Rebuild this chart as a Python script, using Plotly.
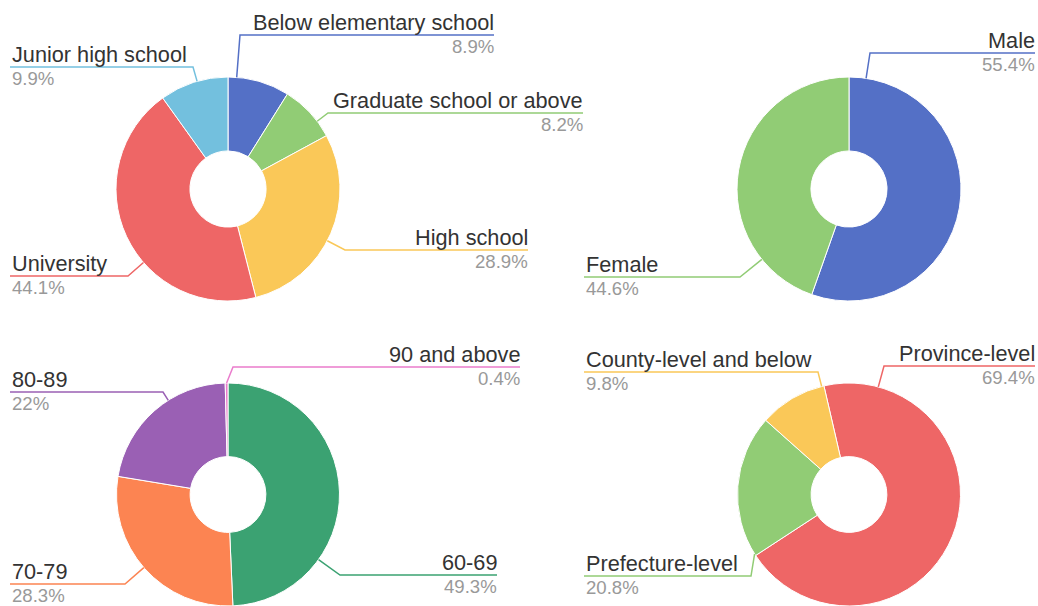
import math
import plotly.graph_objects as go

W, H = 1038, 606

# ---- data -------------------------------------------------------------
edu_labels = ["Below elementary school", "Graduate school or above", "High school",
              "University", "Junior high school"]
edu_values = [8.9, 8.2, 28.9, 44.1, 9.9]

gender_labels = ["Male", "Female"]
gender_values = [55.4, 44.6]

age_labels = ["60-69", "70-79", "80-89", "90 and above"]
age_values = [49.3, 28.3, 22, 0.4]

level_labels = ["Province-level", "Prefecture-level", "County-level and below"]
level_values = [69.4, 20.8, 9.8]

# ---- styling / layout -------------------------------------------------
BLUE, GREEN, YELLOW, RED, SKY = "#5470c6", "#91cc75", "#fac858", "#ee6666", "#73c0de"
TEAL, ORANGE, PURPLE, PINK = "#3ba272", "#fc8452", "#9a60b4", "#ea7ccc"

FONT = "Liberation Sans, Arial, Helvetica, sans-serif"
LABEL_SIZE = 21.7
PCT_SIZE = 18.6
RADIUS = 112
HOLE = 0.34

# each label: (side, y of the underline, x of the elbow, x of the outer text edge)
panels = [
    dict(labels=edu_labels, values=edu_values, colors=[BLUE, GREEN, YELLOW, RED, SKY],
         center=(228, 189), rotation=0,
         guides=[("right", 35, 240, 494), ("right", 113, 328, 583), ("right", 250, 345, 528),
                 ("left", 276, 128, 10), ("left", 67, 193, 10)]),
    dict(labels=gender_labels, values=gender_values, colors=[BLUE, GREEN],
         center=(849, 189), rotation=0,
         guides=[("right", 53, 870, 1035), ("left", 277, 740, 584)]),
    dict(labels=age_labels, values=age_values, colors=[TEAL, ORANGE, PURPLE, PINK],
         center=(228, 495), rotation=0,
         guides=[("right", 575, 340, 497), ("left", 584, 125, 10), ("left", 392, 163, 10),
                 ("right", 367, 233, 520)]),
    dict(labels=level_labels, values=level_values, colors=[RED, GREEN, YELLOW],
         center=(849, 495), rotation=-13,
         guides=[("right", 366, 884, 1035), ("left", 576, 751, 584), ("left", 372, 818, 584)]),
]


def slice_ranges(values, rotation):
    total = float(sum(values))
    out, a = [], rotation
    for v in values:
        span = v / total * 360.0
        out.append((a, a + span))
        a += span
    return out


def anchor_on_rim(cx, cy, r, rng, ex, ey):
    """Point on the outer rim of a slice closest to the leader-line elbow."""
    a0, a1 = rng
    mid = (a0 + a1) / 2
    th = math.degrees(math.atan2(ex - cx, -(ey - cy)))
    th = mid + ((th - mid + 180) % 360 - 180)
    inset = min(1.0, (a1 - a0) / 2)
    th = max(a0 + inset, min(a1 - inset, th))
    t = math.radians(th)
    return cx + r * math.sin(t), cy - r * math.cos(t)


fig = go.Figure()
shapes, annotations = [], []

for p in panels:
    cx, cy = p["center"]
    r = RADIUS
    x0, x1 = max(0, (cx - r) / W), min(1, (cx + r) / W)
    y0, y1 = max(0, 1 - (cy + r) / H), min(1, 1 - (cy - r) / H)
    fig.add_trace(go.Pie(
        labels=p["labels"], values=p["values"], sort=False, direction="clockwise",
        rotation=p["rotation"], hole=HOLE, textinfo="none", hoverinfo="label+percent",
        marker=dict(colors=p["colors"], line=dict(color="white", width=1)),
        domain=dict(x=[x0, x1], y=[y0, y1]), showlegend=False,
    ))
    # effective radius as drawn by the pie (limited by the domain box)
    r_eff = min((x1 - x0) * W, (y1 - y0) * H) / 2
    pcx, pcy = (x0 + x1) / 2 * W, (1 - (y0 + y1) / 2) * H
    ranges = slice_ranges(p["values"], p["rotation"])
    for lab, val, col, rng, (side, ly, ex, edge) in zip(
            p["labels"], p["values"], p["colors"], ranges, p["guides"]):
        sx, sy = anchor_on_rim(pcx, pcy, r_eff, rng, ex, ly)
        shapes.append(dict(type="path", xref="x", yref="y",
                           path=f"M {sx:.2f},{sy:.2f} L {ex},{ly} L {edge},{ly}",
                           line=dict(color=col, width=1.5)))
        anchor = "right" if side == "right" else "left"
        tx = edge if side == "right" else edge + 2
        common = dict(xref="x", yref="y", showarrow=False, xanchor=anchor,
                      yanchor="middle", borderpad=0, borderwidth=0)
        annotations.append(dict(x=tx, y=ly - 12.5, text=lab,
                                font=dict(family=FONT, size=LABEL_SIZE, color="#333333"),
                                **common))
        annotations.append(dict(x=tx, y=ly + 11.5, text=f"{val:g}%",
                                font=dict(family=FONT, size=PCT_SIZE, color="#999999"),
                                **common))

fig.update_layout(
    width=W, height=H, margin=dict(l=0, r=0, t=0, b=0),
    paper_bgcolor="white", plot_bgcolor="white",
    xaxis=dict(range=[0, W], visible=False, fixedrange=True, domain=[0, 1]),
    yaxis=dict(range=[H, 0], visible=False, fixedrange=True, domain=[0, 1]),
    shapes=shapes, annotations=annotations, font=dict(family=FONT),
)

fig.write_html("out.html")
